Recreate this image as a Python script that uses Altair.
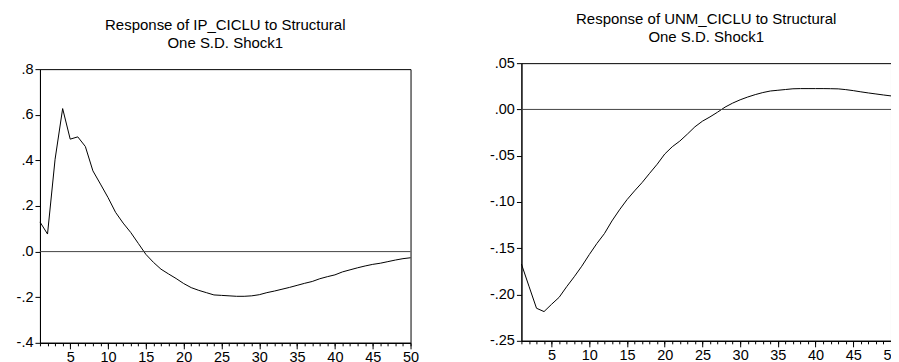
import altair as alt
import pandas as pd

periods = list(range(1, 51))
major_periods = [5, 10, 15, 20, 25, 30, 35, 40, 45, 50]

ip_ciclu = [0.130, 0.077, 0.405, 0.627, 0.493, 0.503, 0.461, 0.354, 0.296, 0.237,
            0.172, 0.125, 0.084, 0.036, -0.012, -0.047, -0.077, -0.098, -0.118, -0.140,
            -0.158, -0.170, -0.180, -0.190, -0.192, -0.194, -0.196, -0.196, -0.194, -0.189,
            -0.180, -0.173, -0.165, -0.157, -0.148, -0.139, -0.131, -0.119, -0.110, -0.102,
            -0.089, -0.080, -0.071, -0.063, -0.056, -0.051, -0.044, -0.037, -0.031, -0.027]

unm_ciclu = [-0.1670, -0.1910, -0.2148, -0.2184, -0.2105, -0.2030, -0.1915, -0.1808, -0.1694, -0.1568,
             -0.1449, -0.1342, -0.1205, -0.1085, -0.0975, -0.0880, -0.0790, -0.0690, -0.0592, -0.0482,
             -0.0403, -0.0342, -0.0267, -0.0188, -0.0127, -0.0081, -0.0030, 0.0025, 0.0068, 0.0104,
             0.0134, 0.0160, 0.0182, 0.0199, 0.0207, 0.0215, 0.0223, 0.0225, 0.0225, 0.0225,
             0.0225, 0.0224, 0.0222, 0.0214, 0.0203, 0.0190, 0.0178, 0.0167, 0.0156, 0.0146]

ip_title = ["Response of IP_CICLU to Structural", "One S.D. Shock1"]
unm_title = ["Response of UNM_CICLU to Structural", "One S.D. Shock1"]

ip_ticks = [-0.4, -0.2, 0.0, 0.2, 0.4, 0.6, 0.8]
unm_ticks = [-0.25, -0.20, -0.15, -0.10, -0.05, 0.00, 0.05]

FONT = "Liberation Sans"
LABEL_EXPR = "replace(replace(datum.label, '\u2212', '-'), '0.', '.')"


def panel(values, yticks, fmt, title_lines, w, h, extra_bottom):
    df = pd.DataFrame({"period": periods, "value": values})
    zero_df = pd.DataFrame({"value": [0.0], "start": [periods[0]], "end": [periods[-1]]})
    xscale = alt.Scale(domain=[1, 50], nice=False, zero=False)
    yscale = alt.Scale(domain=[yticks[0], yticks[-1]], nice=False, zero=False)
    minor_axis = alt.Axis(
        orient="bottom", values=periods, title=None, grid=False,
        labels=False, tickSize=3, domain=True,
    )
    major_kw = dict(
        orient="bottom", values=major_periods, grid=False,
        tickSize=6, labelPadding=2, labelFlush=False, labelOverlap=False,
        domain=True,
    )
    if extra_bottom:
        major_axis = alt.Axis(title=" ", titleFontSize=extra_bottom, titlePadding=0, **major_kw)
    else:
        major_axis = alt.Axis(title=None, **major_kw)
    y_axis = alt.Axis(
        values=yticks, format=fmt,
        labelExpr=LABEL_EXPR,
        title=None, grid=False, tickSize=5, labelPadding=2,
    )
    line = alt.Chart(df).mark_line(color="black", strokeWidth=1).encode(
        x=alt.X("period:Q", scale=xscale, axis=minor_axis),
        y=alt.Y("value:Q", scale=yscale, axis=y_axis),
    )
    zero = alt.Chart(zero_df).mark_rule(color="#444444", strokeWidth=1).encode(
        x=alt.X("start:Q", scale=xscale, axis=major_axis),
        x2="end:Q",
        y=alt.Y("value:Q"),
    )
    return (
        alt.layer(line, zero)
        .resolve_axis(x="independent")
        .properties(
            width=w,
            height=h,
            title=alt.TitleParams(
                text=title_lines,
                fontSize=15,
                lineHeight=18.5,
                anchor="middle",
                offset=10,
            ),
        )
    )


left = panel(ip_ciclu, ip_ticks, ".1f", ip_title, 371, 274, 0)
right = panel(unm_ciclu, unm_ticks, ".2f", unm_title, 370, 278, 8)

chart = (
    alt.hconcat(left, right, spacing=69, center=True)
    .properties(padding={"left": 7, "top": 3, "right": -9, "bottom": 0}, background="white")
    .configure_view(stroke="black", strokeWidth=1)
    .configure_axis(
        domainColor="black",
        tickColor="black",
        labelColor="black",
        labelFont=FONT,
        labelFontSize=14.5,
    )
    .configure_title(font=FONT, color="black", fontWeight="normal")
)

chart.save("out.html", embed_options={"renderer": "svg", "actions": False})
